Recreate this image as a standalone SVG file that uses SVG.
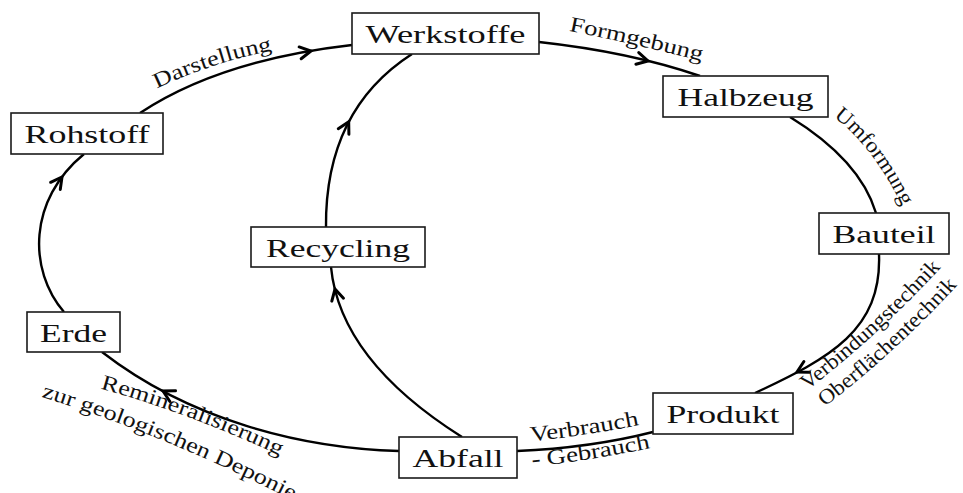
<svg xmlns="http://www.w3.org/2000/svg" xmlns:xlink="http://www.w3.org/1999/xlink" width="963" height="493" viewBox="0 0 963 493">
<style>
.box{fill:#fff;stroke:#1a1a1a;stroke-width:1.6}
.nl{font-family:"Liberation Serif","Times New Roman",serif;font-size:26px;fill:#111;text-anchor:middle}
.el{font-family:"Liberation Serif","Times New Roman",serif;font-size:21.5px;fill:#111;text-anchor:middle}
.c{fill:none;stroke:#000;stroke-width:2.4}
.ah{fill:none;stroke:#000;stroke-width:3;stroke-linecap:round;stroke-linejoin:miter}
</style>
<defs>
<path id="ah" d="M-11,-6 L0,0 L-11,6"/>
<path id="p-dar" d="M150,92 Q210,62 280,49"/>
<path id="p-form" d="M565,30 Q635,44 705,62"/>
<path id="p-umf" d="M834,117 Q874,148 902,206"/>
<path id="p-verb" d="M801,395 Q879,336 946,262"/>
<path id="p-ober" d="M818,412 Q896,353 963,279"/>
<path id="p-vb" d="M525,442 Q585,436 645,424"/>
<path id="p-gb" d="M528,467 Q590,461 655,447"/>
<path id="p-rem" d="M95,387 Q190,413 285,458"/>
<path id="p-zur" d="M42,397 Q165,435 292,500"/>
</defs>
<rect width="963" height="493" fill="#fff"/>
<g id="connectors">
<path class="c" d="M140,113 Q220,60 352,45"/>
<path class="c" d="M539,42 Q630,52 700,76"/>
<path class="c" d="M790,117 Q860,160 876,213"/>
<path class="c" d="M879,254 C882,330 830,358 755,393"/>
<path class="c" d="M653,432 Q590,448 517,451"/>
<path class="c" d="M399,451 C300,448 190,420 102,352"/>
<path class="c" d="M64,312 C28,270 28,200 84,154"/>
<path class="c" d="M462,437 Q340,360 331,267"/>
<path class="c" d="M326,227 Q325,110 412,54"/>
<use href="#ah" class="ah" transform="translate(311,51) rotate(-9.7)"/>
<use href="#ah" class="ah" transform="translate(648,61) rotate(13.9)"/>
<use href="#ah" class="ah" transform="translate(797,372) rotate(152)"/>
<use href="#ah" class="ah" transform="translate(163,391) rotate(208)"/>
<use href="#ah" class="ah" transform="translate(62,177) rotate(-53.6)"/>
<use href="#ah" class="ah" transform="translate(335,289) rotate(-103.9)"/>
<use href="#ah" class="ah" transform="translate(348.7,121.8) rotate(-62.3)"/>
</g>
<g id="edge-labels">
<text class="el"><textPath href="#p-dar" startOffset="50%" textLength="122" lengthAdjust="spacingAndGlyphs">Darstellung</textPath></text>
<text class="el"><textPath href="#p-form" startOffset="50%" textLength="136" lengthAdjust="spacingAndGlyphs">Formgebung</textPath></text>
<text class="el"><textPath href="#p-umf" startOffset="50%" textLength="114" lengthAdjust="spacingAndGlyphs">Umformung</textPath></text>
<text class="el"><textPath href="#p-verb" startOffset="50%" textLength="182" lengthAdjust="spacingAndGlyphs">Verbindungstechnik</textPath></text>
<text class="el"><textPath href="#p-ober" startOffset="50%" textLength="180" lengthAdjust="spacingAndGlyphs">Oberflächentechnik</textPath></text>
<text class="el"><textPath href="#p-vb" startOffset="50%" textLength="110" lengthAdjust="spacingAndGlyphs">Verbrauch</textPath></text>
<text class="el"><textPath href="#p-gb" startOffset="50%" textLength="120" lengthAdjust="spacingAndGlyphs">- Gebrauch</textPath></text>
<text class="el"><textPath href="#p-rem" startOffset="50%" textLength="192" lengthAdjust="spacingAndGlyphs">Remineralisierung</textPath></text>
<text class="el"><textPath href="#p-zur" startOffset="50%" textLength="272" lengthAdjust="spacingAndGlyphs">zur geologischen Deponie</textPath></text>
</g>
<g id="werkstoffe"><rect class="box" x="352" y="13" width="187" height="41"/><text class="nl" x="445.5" y="42.5" textLength="160" lengthAdjust="spacingAndGlyphs">Werkstoffe</text></g>
<g id="halbzeug"><rect class="box" x="663" y="76" width="165" height="41"/><text class="nl" x="745.5" y="105.5" textLength="136" lengthAdjust="spacingAndGlyphs">Halbzeug</text></g>
<g id="rohstoff"><rect class="box" x="11" y="113" width="152" height="41"/><text class="nl" x="87" y="142.5" textLength="125" lengthAdjust="spacingAndGlyphs">Rohstoff</text></g>
<g id="bauteil"><rect class="box" x="819" y="213" width="130" height="41"/><text class="nl" x="884" y="242.5" textLength="103" lengthAdjust="spacingAndGlyphs">Bauteil</text></g>
<g id="recycling"><rect class="box" x="251" y="227" width="174" height="40"/><text class="nl" x="338" y="256.5" textLength="144" lengthAdjust="spacingAndGlyphs">Recycling</text></g>
<g id="erde"><rect class="box" x="27" y="312" width="93" height="40"/><text class="nl" x="73.5" y="341.5" textLength="67" lengthAdjust="spacingAndGlyphs">Erde</text></g>
<g id="abfall"><rect class="box" x="399" y="437" width="118" height="41"/><text class="nl" x="458" y="466.5" textLength="91" lengthAdjust="spacingAndGlyphs">Abfall</text></g>
<g id="produkt"><rect class="box" x="653" y="393" width="140" height="41"/><text class="nl" x="723" y="422.5" textLength="113" lengthAdjust="spacingAndGlyphs">Produkt</text></g>
</svg>
